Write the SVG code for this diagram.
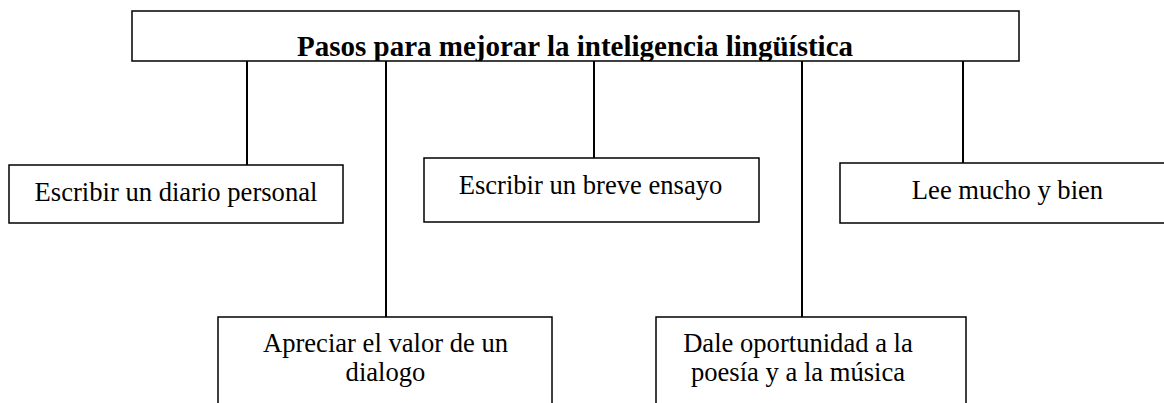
<svg xmlns="http://www.w3.org/2000/svg" width="1164" height="403" viewBox="0 0 1164 403">
  <style>
    .box { fill: #ffffff; stroke: #000000; stroke-width: 1.5; }
    .conn { stroke: #000000; stroke-width: 2; fill: none; }
    .lbl { font-family: "Liberation Serif", "Times New Roman", serif; font-size: 26.6px; fill: #000000; text-anchor: middle; }
    .title { font-family: "Liberation Serif", "Times New Roman", serif; font-size: 29px; font-weight: bold; fill: #000000; text-anchor: middle; }
  </style>
  <defs>
    <clipPath id="titleClip"><rect x="132" y="11" width="887" height="50"/></clipPath>
  </defs>
  <rect width="1164" height="403" fill="#ffffff"/>
  <g id="connectors">
    <line class="conn" x1="247" y1="61" x2="247" y2="165"/>
    <line class="conn" x1="386" y1="61" x2="386" y2="317"/>
    <line class="conn" x1="594" y1="61" x2="594" y2="158"/>
    <line class="conn" x1="802" y1="61" x2="802" y2="317"/>
    <line class="conn" x1="963" y1="61" x2="963" y2="163"/>
  </g>
  <g id="title">
    <rect class="box" x="132" y="11" width="887" height="50"/>
    <text class="title" x="575" y="56" clip-path="url(#titleClip)">Pasos para mejorar la inteligencia lingüística</text>
  </g>
  <g id="diario">
    <rect class="box" x="9" y="165" width="334" height="58"/>
    <text class="lbl" x="176" y="201">Escribir un diario personal</text>
  </g>
  <g id="ensayo">
    <rect class="box" x="424" y="158" width="335" height="64"/>
    <text class="lbl" x="590.5" y="194">Escribir un breve ensayo</text>
  </g>
  <g id="lee">
    <rect class="box" x="840" y="163" width="335" height="60"/>
    <text class="lbl" x="1007.5" y="199">Lee mucho y bien</text>
  </g>
  <g id="dialogo">
    <rect class="box" x="218" y="317" width="334" height="100"/>
    <text class="lbl" x="385.5" y="352">Apreciar el valor de un</text>
    <text class="lbl" x="385.5" y="381">dialogo</text>
  </g>
  <g id="poesia">
    <rect class="box" x="656" y="317" width="310" height="100"/>
    <text class="lbl" x="798" y="352">Dale oportunidad a la</text>
    <text class="lbl" x="798" y="381">poesía y a la música</text>
  </g>
</svg>
